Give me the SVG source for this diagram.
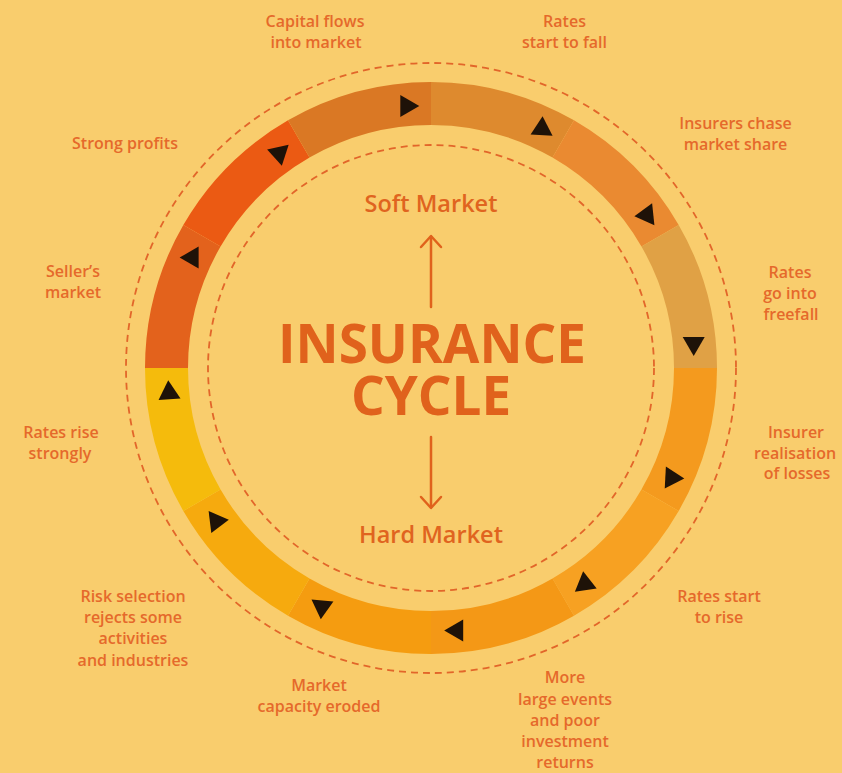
<svg xmlns="http://www.w3.org/2000/svg" width="842" height="773" viewBox="0 0 842 773">
  <defs>
    <style>
      .lbl { font-family: "Open Sans", "Noto Sans", "DejaVu Sans", sans-serif; font-weight: 600; font-size: 16px; fill: #E5692B; text-anchor: middle; }
      .mkt { font-family: "Open Sans", "Noto Sans", "DejaVu Sans", sans-serif; font-weight: 600; font-size: 23.5px; fill: #E0641F; text-anchor: middle; }
      .title { font-family: "Open Sans", "Noto Sans", "DejaVu Sans", sans-serif; font-weight: 700; font-size: 53px; fill: #E0621C; text-anchor: middle; }
      .dash { fill: none; stroke: #E2662A; stroke-width: 1.8; stroke-dasharray: 7 5; }
      .arr { fill: none; stroke: #E0621C; stroke-width: 2.5; stroke-linecap: round; stroke-linejoin: round; }
      .tri { fill: #1E1208; }
    </style>
    <polygon id="tri" points="-6.3,-11 -6.3,11 12.7,0"/>
  </defs>

  <rect width="842" height="773" fill="#F9CD6D"/>

  <!-- dashed guide circles -->
  <circle class="dash" cx="431" cy="368" r="305"/>
  <circle class="dash" cx="431" cy="368" r="223"/>

  <!-- ring of twelve 30-degree stages, clockwise from the top -->
  <g id="ring">
    <path id="seg1" fill="#DE8A2E" d="M431,82 A286,286 0 0 1 574,120.32 L552.5,157.56 A243,243 0 0 0 431,125 Z"/>
    <path id="seg2" fill="#EA8A31" d="M574,120.32 A286,286 0 0 1 678.68,225 L641.44,246.5 A243,243 0 0 0 552.5,157.56 Z"/>
    <path id="seg3" fill="#E0A145" d="M678.68,225 A286,286 0 0 1 717,368 L674,368 A243,243 0 0 0 641.44,246.5 Z"/>
    <path id="seg4" fill="#F49A1E" d="M717,368 A286,286 0 0 1 678.68,511 L641.44,489.5 A243,243 0 0 0 674,368 Z"/>
    <path id="seg5" fill="#F7A122" d="M678.68,511 A286,286 0 0 1 574,615.68 L552.5,578.44 A243,243 0 0 0 641.44,489.5 Z"/>
    <path id="seg6" fill="#F49816" d="M574,615.68 A286,286 0 0 1 431,654 L431,611 A243,243 0 0 0 552.5,578.44 Z"/>
    <path id="seg7" fill="#F59C10" d="M431,654 A286,286 0 0 1 288,615.68 L309.5,578.44 A243,243 0 0 0 431,611 Z"/>
    <path id="seg8" fill="#F6AA0E" d="M288,615.68 A286,286 0 0 1 183.32,511 L220.56,489.5 A243,243 0 0 0 309.5,578.44 Z"/>
    <path id="seg9" fill="#F5BB0C" d="M183.32,511 A286,286 0 0 1 145,368 L188,368 A243,243 0 0 0 220.56,489.5 Z"/>
    <path id="seg10" fill="#E3621C" d="M145,368 A286,286 0 0 1 183.32,225 L220.56,246.5 A243,243 0 0 0 188,368 Z"/>
    <path id="seg11" fill="#EB5A13" d="M183.32,225 A286,286 0 0 1 288,120.32 L309.5,157.56 A243,243 0 0 0 220.56,246.5 Z"/>
    <path id="seg12" fill="#DA7824" d="M288,120.32 A286,286 0 0 1 431,82 L431,125 A243,243 0 0 0 309.5,157.56 Z"/>
  </g>

  <!-- connectors: pointers on the ring and the centre arrows -->
  <g id="connectors">
    <use href="#tri" class="tri" transform="translate(406.6,106.1) rotate(0)"/>
    <use href="#tri" class="tri" transform="translate(541.9,128.9) rotate(-87)"/>
    <use href="#tri" class="tri" transform="translate(647,214.9) rotate(174)"/>
    <use href="#tri" class="tri" transform="translate(693.7,343.3) rotate(90)"/>
    <use href="#tri" class="tri" transform="translate(671.6,477.8) rotate(3)"/>
    <use href="#tri" class="tri" transform="translate(584.9,583.9) rotate(-98)"/>
    <use href="#tri" class="tri" transform="translate(456.9,630.4) rotate(180)"/>
    <use href="#tri" class="tri" transform="translate(321.9,606.7) rotate(95)"/>
    <use href="#tri" class="tri" transform="translate(216.2,521.2) rotate(-7)"/>
    <use href="#tri" class="tri" transform="translate(169.1,392.9) rotate(-94)"/>
    <use href="#tri" class="tri" transform="translate(192.3,257.6) rotate(180)"/>
    <use href="#tri" class="tri" transform="translate(279.2,153.3) rotate(78)"/>

    <g id="arrow-soft">
      <line class="arr" x1="431" y1="307" x2="431" y2="237"/>
      <polyline class="arr" points="421,247 431,236 441,247"/>
    </g>
    <g id="arrow-hard">
      <line class="arr" x1="431" y1="437" x2="431" y2="507"/>
      <polyline class="arr" points="421,497 431,508 441,497"/>
    </g>
  </g>

  <!-- centre -->
  <g id="title">
    <text class="title" x="432" y="363">INSURANCE</text>
    <text class="title" x="431" y="415">CYCLE</text>
  </g>
  <g id="soft-market"><text class="mkt" x="431" y="212">Soft Market</text></g>
  <g id="hard-market"><text class="mkt" x="431" y="543">Hard Market</text></g>

  <!-- stage labels -->
  <g id="capital-flows">
    <text class="lbl" x="315" y="27">Capital flows</text>
    <text class="lbl" x="316" y="48">into market</text>
  </g>
  <g id="rates-start-to-fall">
    <text class="lbl" x="564.5" y="27">Rates</text>
    <text class="lbl" x="564.5" y="48">start to fall</text>
  </g>
  <g id="insurers-chase">
    <text class="lbl" x="735.5" y="129">Insurers chase</text>
    <text class="lbl" x="735.5" y="150">market share</text>
  </g>
  <g id="rates-freefall">
    <text class="lbl" x="790" y="278">Rates</text>
    <text class="lbl" x="790" y="299">go into</text>
    <text class="lbl" x="791" y="320">freefall</text>
  </g>
  <g id="insurer-realisation">
    <text class="lbl" x="796" y="438">Insurer</text>
    <text class="lbl" x="795" y="459">realisation</text>
    <text class="lbl" x="797" y="479">of losses</text>
  </g>
  <g id="rates-start-to-rise">
    <text class="lbl" x="719" y="602">Rates start</text>
    <text class="lbl" x="719" y="623">to rise</text>
  </g>
  <g id="more-large-events">
    <text class="lbl" x="565" y="683">More</text>
    <text class="lbl" x="565" y="705">large events</text>
    <text class="lbl" x="565" y="726">and poor</text>
    <text class="lbl" x="565" y="747">investment</text>
    <text class="lbl" x="565" y="768">returns</text>
  </g>
  <g id="capacity-eroded">
    <text class="lbl" x="319" y="691">Market</text>
    <text class="lbl" x="319" y="712">capacity eroded</text>
  </g>
  <g id="risk-selection">
    <text class="lbl" x="133" y="602">Risk selection</text>
    <text class="lbl" x="133" y="623">rejects some</text>
    <text class="lbl" x="133" y="644">activities</text>
    <text class="lbl" x="133" y="666">and industries</text>
  </g>
  <g id="rates-rise-strongly">
    <text class="lbl" x="61" y="438">Rates rise</text>
    <text class="lbl" x="60" y="459">strongly</text>
  </g>
  <g id="sellers-market">
    <text class="lbl" x="73" y="277">Seller’s</text>
    <text class="lbl" x="73" y="298">market</text>
  </g>
  <g id="strong-profits">
    <text class="lbl" x="125" y="149">Strong profits</text>
  </g>
</svg>
